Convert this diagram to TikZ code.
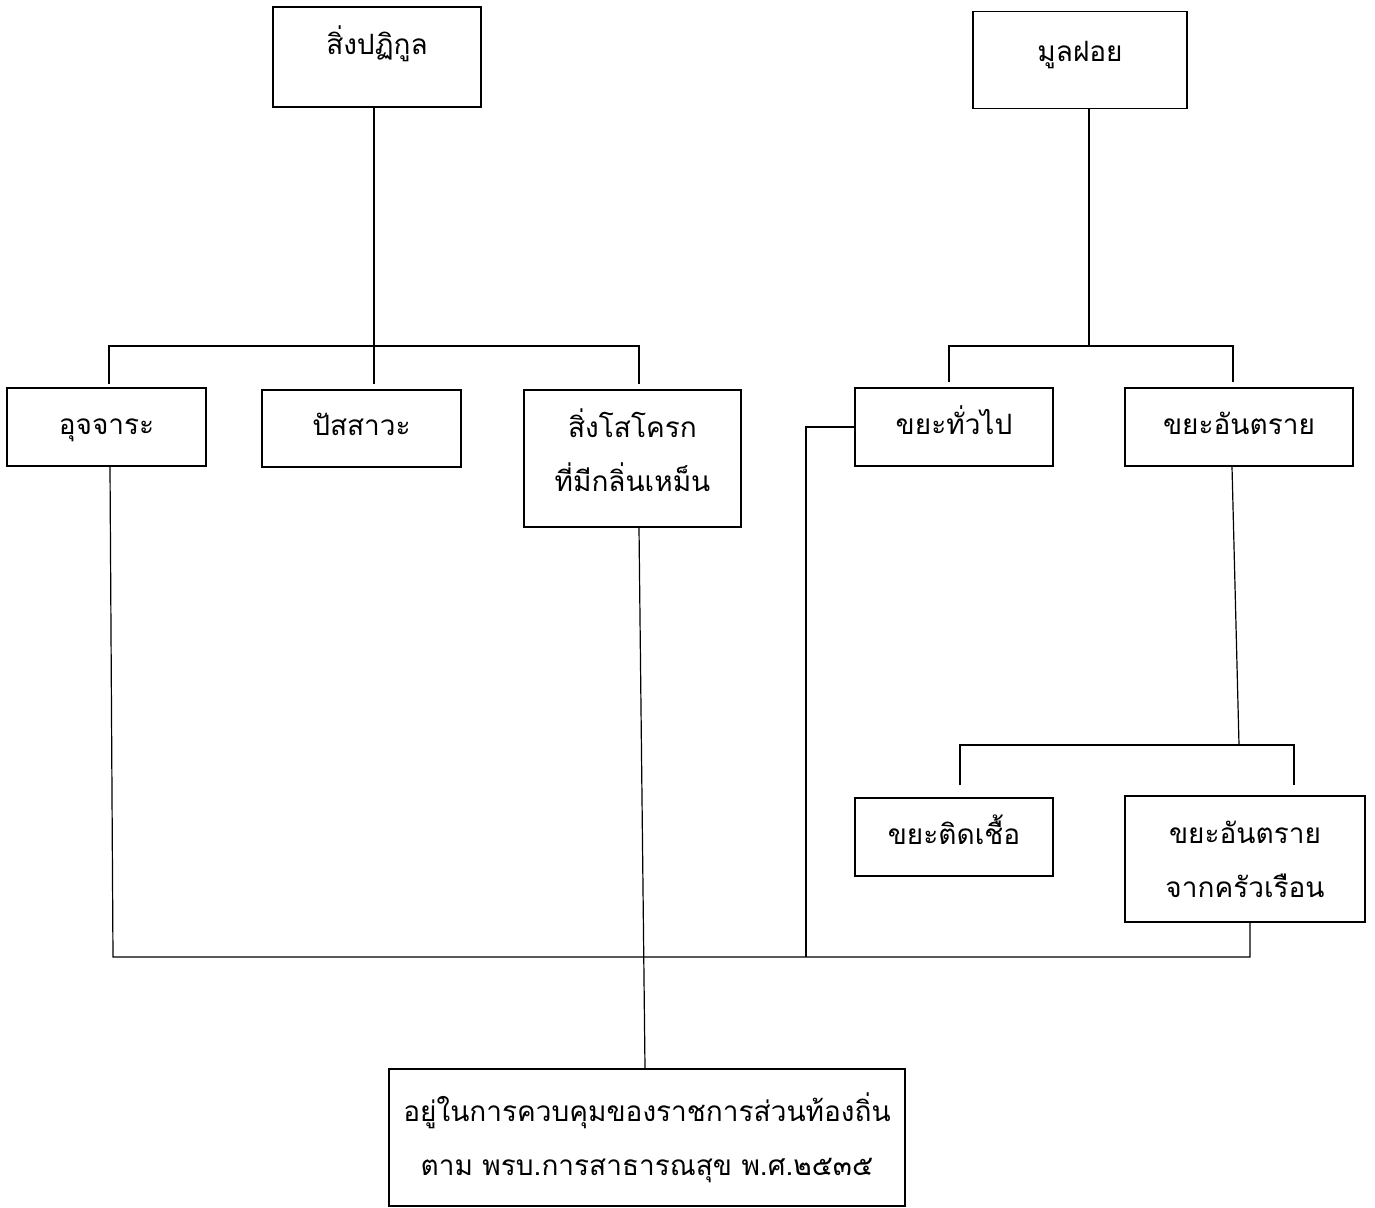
\documentclass[tikz,border=0pt]{standalone}
\usepackage{fontspec}
\newfontfamily\thaifont[Script=Thai]{Loma}
\usetikzlibrary{positioning}

\tikzset{
  box/.style={draw, line width=1.6pt, align=center, font=\thaifont\fontsize{28}{54}\selectfont},
  onebox/.style={box, text height=20pt, text depth=6pt},
  link/.style={line width=1.2pt},
}

\begin{document}
\begin{tikzpicture}[x=1pt, y=-1pt]
\useasboundingbox (0,0) rectangle (1375,1207);
% top level
\node[onebox, text depth=24pt, minimum width=208pt, minimum height=100pt] (spg) at (377,57) {สิ่งปฏิกูล};
\node[onebox, text depth=16pt, minimum width=214pt, minimum height=97pt] (mf) at (1080,60) {มูลฝอย};
% second level
\node[onebox, minimum width=199pt, minimum height=78pt] (ujj) at (106.5,427) {อุจจาระ};
\node[onebox, minimum width=199pt, minimum height=77pt] (pss) at (361.5,428.5) {ปัสสาวะ};
\node[box, minimum width=217pt, minimum height=137pt] (sso) at (632.5,458.5) {สิ่งโสโครก\\ที่มีกลิ่นเหม็น\rule[-16pt]{0pt}{16pt}};
\node[onebox, minimum width=198pt, minimum height=78pt] (gen) at (954,427) {ขยะทั่วไป};
\node[onebox, minimum width=228pt, minimum height=78pt] (haz) at (1239,427) {ขยะอันตราย};
% third level
\node[onebox, minimum width=198pt, minimum height=78pt] (inf) at (954,837) {ขยะติดเชื้อ};
\node[box, minimum width=240pt, minimum height=126pt] (hh) at (1245,859) {ขยะอันตราย\\จากครัวเรือน};
% bottom
\node[box, minimum width=516pt, minimum height=137pt] (loc) at (647,1137.5) {อยู่ในการควบคุมของราชการส่วนท้องถิ่น\\ตาม พรบ.การสาธารณสุข พ.ศ.๒๕๓๕};

% bars
\coordinate (sbar) at (374,346);
\coordinate (mbar) at (1089,346);
\coordinate (hbar) at (1239,745);
\coordinate (gbar) at (806,427);
\coordinate (lbar) at (645,957);

% left tree
\draw[link] ([xshift=-3pt]spg.south) -- (sbar) -- ([yshift=5pt]sbar |- pss.north);
\draw[link] ([xshift=2.5pt, yshift=3pt]ujj.north) -- ([xshift=2.5pt]ujj.north |- sbar) -| ([xshift=6.5pt, yshift=5pt]sso.north);
% right tree
\draw[link] ([xshift=9pt]mf.south) -- (mbar);
\draw[link] ([xshift=-5pt, yshift=5pt]gen.north) -- ([xshift=-5pt]gen.north |- mbar) -| ([xshift=-6pt, yshift=5pt]haz.north);
\draw[link] ([xshift=-7pt]haz.south) -- (hbar);
\draw[link] ([xshift=6pt, yshift=12pt]inf.north) -- ([xshift=6pt]inf.north |- hbar) -| ([xshift=49pt, yshift=10pt]hh.north);
% to bottom
\draw[link] (gen.west) -- (gbar) -- (gbar |- lbar);
\draw[link] ([xshift=3.5pt]ujj.south) -- ([xshift=6.5pt]ujj.south |- lbar) -- ([xshift=5pt]hh.south |- lbar) -- ([xshift=5pt]hh.south);
\draw[link] ([xshift=6.5pt]sso.south) -- ([xshift=-2pt]loc.north);
\end{tikzpicture}
\end{document}
